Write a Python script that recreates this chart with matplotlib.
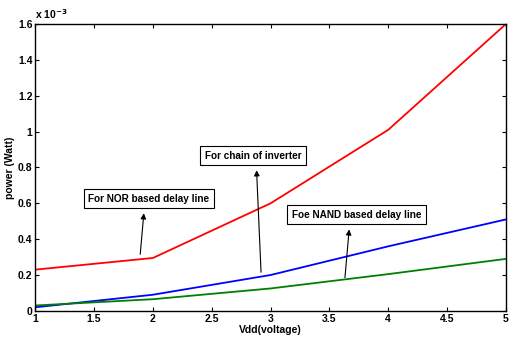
import matplotlib.pyplot as plt
import numpy as np

plt.rcParams['font.family'] = ['Liberation Sans', 'DejaVu Sans']
plt.rcParams['font.weight'] = 'bold'

vdd = [1, 2, 3, 4, 5]
# power values in units of 1e-3 W
p_nor = [0.23, 0.295, 0.60, 1.01, 1.60]
p_inv = [0.02, 0.09, 0.20, 0.36, 0.51]
p_nand = [0.03, 0.065, 0.125, 0.205, 0.29]

fig = plt.figure(figsize=(5.11, 3.39), dpi=100)
ax = fig.add_axes([0.069, 0.083, 0.921, 0.846])

ax.plot(vdd, p_nor, color='red', lw=1.3)
ax.plot(vdd, p_inv, color='blue', lw=1.3)
ax.plot(vdd, p_nand, color='green', lw=1.3)

ax.set_xlim(1, 5)
ax.set_ylim(0, 1.6)
ax.set_xticks(np.arange(1, 5.01, 0.5))
ax.set_xticklabels(['1', '1.5', '2', '2.5', '3', '3.5', '4', '4.5', '5'])
ax.set_yticks(np.arange(0, 1.61, 0.2))
ax.set_yticklabels(['0', '0.2', '0.4', '0.6', '0.8', '1', '1.2', '1.4', '1.6'])
ax.tick_params(direction='in', top=True, right=True, labelsize=7.5, length=3, pad=2)
for s in ax.spines.values():
    s.set_linewidth(1.0)

ax.set_xlabel('Vdd(voltage)', fontsize=7.5, fontweight='bold', labelpad=1)
ax.set_ylabel('power (Watt)', fontsize=7.5, fontweight='bold', labelpad=2)
ax.text(0.0, 1.01, r'x 10$^{-3}$', transform=ax.transAxes, fontsize=7.5,
        fontweight='bold', ha='left', va='bottom')

box = dict(boxstyle='square,pad=0.45', fc='white', ec='black', lw=0.8)
arr = dict(arrowstyle='-|>', color='black', lw=0.8, mutation_scale=8)

ax.annotate('', xy=(1.925, 0.56), xytext=(1.89, 0.30), arrowprops=arr)
ax.text(1.45, 0.625, 'For NOR based delay line', fontsize=7.2, fontweight='bold',
        bbox=box, va='center', ha='left')

ax.annotate('', xy=(2.88, 0.80), xytext=(2.92, 0.20), arrowprops=arr)
ax.text(2.44, 0.865, 'For chain of inverter', fontsize=7.2, fontweight='bold',
        bbox=box, va='center', ha='left')

ax.annotate('', xy=(3.67, 0.47), xytext=(3.63, 0.17), arrowprops=arr)
ax.text(3.18, 0.535, 'Foe NAND based delay line', fontsize=7.2, fontweight='bold',
        bbox=box, va='center', ha='left')

fig.savefig('out.png', dpi=100)
